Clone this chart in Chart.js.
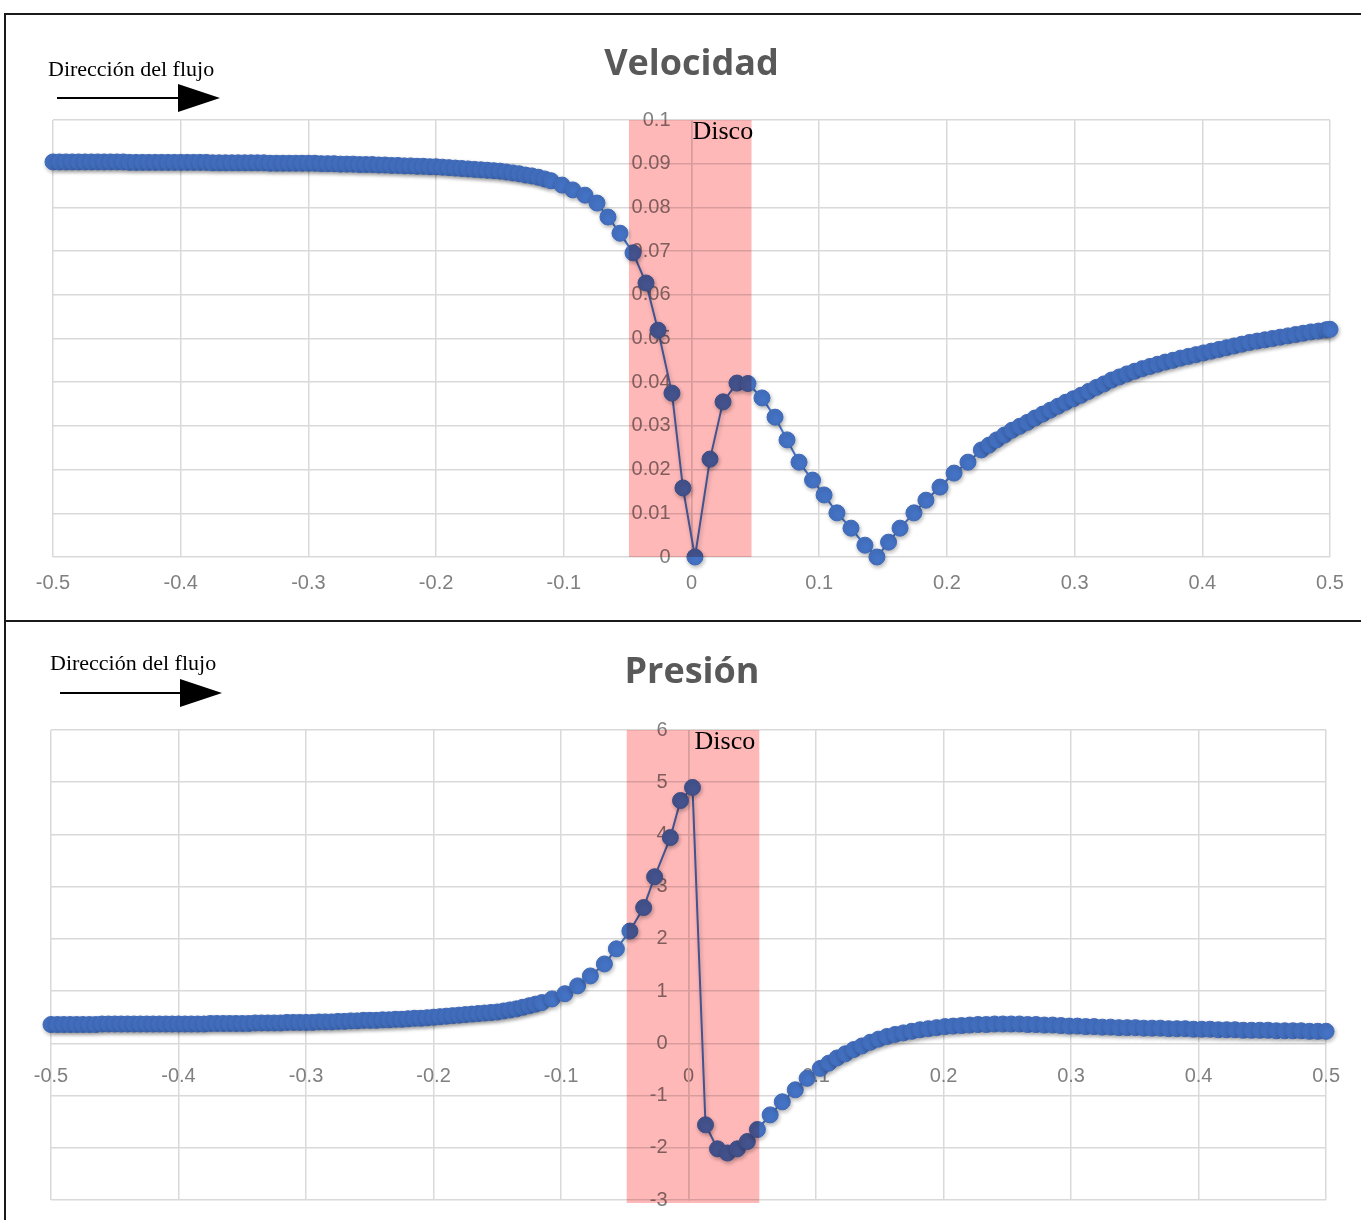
<!DOCTYPE html>
<html>
<head>
<meta charset="utf-8">
<script src="https://cdn.jsdelivr.net/npm/chart.js@4.4.1/dist/chart.umd.min.js"></script>
<style>
html,body{margin:0;padding:0;background:#fff;}
body{width:1361px;height:1220px;overflow:hidden;position:relative;}
.ln{position:absolute;background:#1a1a1a;z-index:5;}
canvas{position:absolute;left:0;}
#c1{top:0;}
#c2{top:622px;}
.dir{position:absolute;font-family:"Liberation Serif","Times New Roman",serif;font-size:22px;line-height:22px;color:#000;white-space:nowrap;z-index:4;}
.shaft{position:absolute;height:2px;background:#000;z-index:4;}
.head{position:absolute;width:0;height:0;border-left:42px solid #000;border-top:14px solid transparent;border-bottom:14px solid transparent;z-index:4;}
</style>
</head>
<body>
<div class="ln" style="left:4px;top:13px;width:1357px;height:2px;"></div>
<div class="ln" style="left:4px;top:13px;width:2px;height:1207px;"></div>
<div class="ln" style="left:4px;top:620px;width:1357px;height:2px;"></div>

<canvas id="c1" width="1361" height="610"></canvas>
<canvas id="c2" width="1361" height="598"></canvas>

<div class="dir" style="left:48px;top:58px;">Dirección del flujo</div>
<div class="shaft" style="left:57px;top:97px;width:124px;"></div>
<div class="head" style="left:178px;top:84px;"></div>

<div class="dir" style="left:50px;top:652px;">Dirección del flujo</div>
<div class="shaft" style="left:60px;top:692px;width:122px;"></div>
<div class="head" style="left:180px;top:679px;"></div>

<script>
// ---------- data ----------
const xTickVals = [-0.5,-0.4,-0.3,-0.2,-0.1,0,0.1,0.2,0.3,0.4,0.5];
const xTickLabels = ['-0.5','-0.4','-0.3','-0.2','-0.1','0','0.1','0.2','0.3','0.4','0.5'];
const velYTickVals = [0,0.01,0.02,0.03,0.04,0.05,0.06,0.07,0.08,0.09,0.1];
const velYTickLabels = ['0','0.01','0.02','0.03','0.04','0.05','0.06','0.07','0.08','0.09','0.1'];
const presYTickVals = [-3,-2,-1,0,1,2,3,4,5,6];
const presYTickLabels = ['-3','-2','-1','0','1','2','3','4','5','6'];

const velTitle = 'Velocidad';
const presTitle = 'Presión';
const discLabel = 'Disco';
const velDisc = [-0.049, 0.047];
const presDisc = [-0.0485, 0.0555];

const velX = [
-0.5,-0.495,-0.49,-0.485,-0.48,-0.475,-0.47,-0.465,-0.46,-0.455,
-0.45,-0.445,-0.44,-0.435,-0.43,-0.425,-0.42,-0.415,-0.41,-0.405,
-0.4,-0.395,-0.39,-0.385,-0.38,-0.375,-0.37,-0.365,-0.36,-0.355,
-0.35,-0.345,-0.34,-0.335,-0.33,-0.325,-0.32,-0.315,-0.31,-0.305,
-0.3,-0.295,-0.29,-0.285,-0.28,-0.275,-0.27,-0.265,-0.26,-0.255,
-0.25,-0.245,-0.24,-0.235,-0.23,-0.225,-0.22,-0.215,-0.21,-0.205,
-0.2,-0.195,-0.19,-0.185,-0.18,-0.175,-0.17,-0.165,-0.16,-0.155,
-0.15,-0.145,-0.14,-0.135,-0.13,-0.125,-0.12,-0.115,-0.11,
-0.1014,-0.093,-0.0834,-0.074,-0.0654,-0.056,-0.0458,-0.0356,-0.0262,-0.0153,
-0.0067,0.0027,0.0145,0.0247,0.0356,0.0442,0.0552,0.0654,0.0748,0.0842,
0.0948,0.1038,0.1139,0.1249,0.1358,0.1452,0.1543,0.1633,0.1742,0.1836,
0.1946,0.2056,0.2165,
0.227,0.233,0.239,0.245,0.251,0.257,0.263,0.269,0.275,0.281,
0.287,0.293,0.299,0.305,0.311,0.317,0.323,0.329,0.335,0.341,
0.347,0.353,0.359,0.365,0.371,0.377,0.383,0.389,0.395,0.401,
0.407,0.413,0.419,0.425,0.431,0.437,0.443,0.449,0.455,0.461,
0.467,0.473,0.479,0.485,0.491,0.497,0.5
];
const velV = [
0.0904,0.0904,0.0904,0.0904,0.0904,0.0904,0.0904,0.0904,0.0904,0.0904,
0.0904,0.0904,0.0903,0.0903,0.0903,0.0903,0.0903,0.0903,0.0903,0.0903,
0.0903,0.0903,0.0903,0.0903,0.0903,0.0902,0.0902,0.0902,0.0902,0.0902,
0.0902,0.0902,0.0902,0.0902,0.0901,0.0901,0.0901,0.0901,0.0901,0.0901,
0.0901,0.0901,0.0900,0.0900,0.0900,0.0899,0.0899,0.0899,0.0898,0.0898,
0.0898,0.0897,0.0897,0.0896,0.0896,0.0895,0.0895,0.0894,0.0894,0.0893,
0.0893,0.0892,0.0891,0.0890,0.0889,0.0888,0.0887,0.0886,0.0885,0.0884,
0.0883,0.0881,0.0879,0.0877,0.0874,0.0872,0.0869,0.0865,0.0861,
0.0851,0.0840,0.0828,0.0810,0.0778,0.0741,0.0696,0.0627,0.0519,0.0375,
0.0158,0.0,0.0224,0.0355,0.0398,0.0397,0.0364,0.0320,0.0268,0.0217,
0.0176,0.0142,0.0101,0.0066,0.0027,0.0,0.0034,0.0066,0.0101,0.0130,
0.0160,0.0192,0.0217,
0.0245,0.0256,0.0268,0.0279,0.0290,0.0299,0.0308,0.0318,0.0327,0.0336,
0.0345,0.0354,0.0362,0.0370,0.0379,0.0388,0.0396,0.0405,0.0412,0.0419,
0.0425,0.0431,0.0436,0.0441,0.0446,0.0450,0.0455,0.0459,0.0463,0.0467,
0.0471,0.0475,0.0479,0.0483,0.0487,0.0491,0.0494,0.0497,0.0500,0.0503,
0.0506,0.0509,0.0512,0.0515,0.0517,0.0520,0.0521
];

const presX = [
-0.5,-0.495,-0.49,-0.485,-0.48,-0.475,-0.47,-0.465,-0.46,-0.455,
-0.45,-0.445,-0.44,-0.435,-0.43,-0.425,-0.42,-0.415,-0.41,-0.405,
-0.4,-0.395,-0.39,-0.385,-0.38,-0.375,-0.37,-0.365,-0.36,-0.355,
-0.35,-0.345,-0.34,-0.335,-0.33,-0.325,-0.32,-0.315,-0.31,-0.305,
-0.3,-0.295,-0.29,-0.285,-0.28,-0.275,-0.27,-0.265,-0.26,-0.255,
-0.25,-0.245,-0.24,-0.235,-0.23,-0.225,-0.22,-0.215,-0.21,-0.205,
-0.2,-0.195,-0.19,-0.185,-0.18,-0.175,-0.17,-0.165,-0.16,-0.155,
-0.15,-0.145,-0.14,-0.135,-0.13,-0.125,-0.12,-0.115,
-0.107,-0.097,-0.087,-0.077,-0.066,-0.0566,-0.046,-0.0352,-0.0266,-0.0143,
-0.0063,0.0031,0.0133,0.0227,0.0305,0.0383,0.0461,0.054,0.064,0.0735,
0.0837,0.093,
0.1033,0.110,0.1165,0.123,0.1295,0.136,0.1425,0.149,0.1555,0.162,
0.1685,0.175,0.1815,0.188,0.1945,0.201,0.2075,0.214,0.2205,0.227,
0.2335,0.24,0.2465,0.253,0.2595,0.266,0.2725,0.279,0.2855,0.292,
0.2985,0.305,0.3115,0.318,0.3245,0.331,0.3375,0.344,0.3505,0.357,
0.3635,0.37,0.3765,0.383,0.3895,0.396,0.4025,0.409,0.4155,0.422,
0.4285,0.435,0.4415,0.448,0.4545,0.461,0.4675,0.474,0.4805,0.487,
0.4935,0.5
];
const presP = [
0.36,0.36,0.36,0.36,0.36,0.36,0.36,0.36,0.37,0.37,
0.37,0.37,0.37,0.37,0.37,0.37,0.37,0.37,0.37,0.37,
0.37,0.37,0.37,0.37,0.37,0.38,0.38,0.38,0.38,0.38,
0.38,0.38,0.39,0.39,0.39,0.39,0.39,0.40,0.40,0.40,
0.40,0.40,0.41,0.41,0.41,0.42,0.42,0.43,0.43,0.44,
0.44,0.44,0.45,0.45,0.46,0.46,0.47,0.48,0.48,0.49,
0.50,0.51,0.52,0.53,0.54,0.55,0.56,0.57,0.58,0.59,
0.60,0.62,0.64,0.66,0.69,0.72,0.75,0.78,
0.85,0.95,1.10,1.29,1.52,1.81,2.15,2.60,3.19,3.94,
4.65,4.90,-1.56,-2.02,-2.10,-2.02,-1.88,-1.65,-1.37,-1.12,
-0.89,-0.67,
-0.48,-0.38,-0.28,-0.20,-0.12,-0.05,0.02,0.08,0.13,0.17,
0.20,0.23,0.26,0.28,0.30,0.32,0.33,0.34,0.35,0.36,
0.36,0.37,0.37,0.37,0.37,0.36,0.36,0.35,0.35,0.34,
0.33,0.33,0.32,0.32,0.31,0.31,0.30,0.30,0.30,0.29,
0.29,0.29,0.28,0.28,0.28,0.27,0.27,0.27,0.26,0.26,
0.26,0.25,0.25,0.25,0.25,0.24,0.24,0.24,0.24,0.23,
0.23,0.23
];

// ---------- rendering ----------
Chart.defaults.font.family = '"Liberation Sans", Arial, sans-serif';

const discPlugin = {
  id: 'disc',
  beforeDatasetsDraw(chart) {
    const ctx = chart.ctx;
    ctx.save();
    ctx.shadowColor = 'rgba(0,0,0,0.28)';
    ctx.shadowBlur = 4;
    ctx.shadowOffsetX = 1;
    ctx.shadowOffsetY = 2;
  },
  afterDatasetsDraw(chart, args, opts) {
    const ctx = chart.ctx;
    ctx.restore();
    const a = chart.chartArea;
    const xs = chart.scales.x;
    const x0 = xs.getPixelForValue(opts.from);
    const x1 = xs.getPixelForValue(opts.to);
    ctx.save();
    ctx.globalCompositeOperation = 'multiply';
    ctx.fillStyle = 'rgb(255,184,184)';
    ctx.fillRect(x0, a.top, x1 - x0, a.bottom - a.top + opts.extra);
    ctx.restore();
    ctx.save();
    ctx.fillStyle = '#000';
    ctx.font = '26px "Liberation Serif", serif';
    ctx.textBaseline = 'middle';
    ctx.textAlign = 'left';
    ctx.fillText(opts.label, xs.getPixelForValue(0) + opts.dx, a.top + 12);
    ctx.restore();
  }
};

// y labels of an axis placed at x = 0 get a gap from the axis line
function shiftYLabels(scale) {
  if (scale._shiftPatched) return;
  const orig = scale._computeLabelItems;
  scale._computeLabelItems = function (ca) {
    const items = orig.call(this, ca);
    items.forEach(it => { it.options.translation[0] -= 21; });
    return items;
  };
  scale._shiftPatched = true;
}

function makeChart(id, xs, ys, cfg) {
  const pts = xs.map((x, i) => ({x: x, y: ys[i]}));
  return new Chart(document.getElementById(id), {
    type: 'scatter',
    data: {
      datasets: [{
        data: pts,
        showLine: true,
        borderColor: '#4472C4',
        borderWidth: 2,
        backgroundColor: '#4472C4',
        pointBorderColor: '#3f69b8',
        pointBorderWidth: 1,
        pointRadius: 8,
        pointHoverRadius: 8,
        tension: 0,
        clip: false
      }]
    },
    options: {
      responsive: false,
      animation: false,
      events: [],
      layout: {padding: cfg.padding},
      plugins: {
        legend: {display: false},
        tooltip: {enabled: false},
        title: {
          display: true,
          text: cfg.title,
          color: '#595959',
          font: {family: '"Open Sans", "Liberation Sans", sans-serif', size: 36, weight: 'bold'},
          padding: cfg.titlePad
        },
        disc: {from: cfg.disc[0], to: cfg.disc[1], extra: cfg.discExtra, dx: cfg.discDx, label: discLabel}
      },
      scales: {
        x: {
          type: 'linear',
          min: -0.5, max: 0.5,
          position: cfg.xPos,
          afterBuildTicks: s => { s.ticks = xTickVals.map(v => ({value: v})); },
          ticks: {
            callback: (v, i) => xTickLabels[i],
            color: '#808080',
            font: {size: 20},
            padding: cfg.xPad,
            maxRotation: 0,
            autoSkip: false
          },
          grid: {color: '#d9d9d9', lineWidth: 1.5, drawTicks: false},
          border: {display: false}
        },
        y: {
          type: 'linear',
          min: cfg.yMin, max: cfg.yMax,
          position: {x: 0},
          afterBuildTicks: s => { s.ticks = cfg.yTicks.map(v => ({value: v})); },
          afterUpdate: shiftYLabels,
          ticks: {
            callback: (v, i) => cfg.yLabels[i],
            color: '#808080',
            font: {size: 20},
            padding: 0,
            autoSkip: false
          },
          grid: {color: '#d9d9d9', lineWidth: 1.5, drawTicks: false},
          border: {color: '#d9d9d9', width: 1.5}
        }
      }
    },
    plugins: [discPlugin]
  });
}

makeChart('c1', velX, velV, {
  title: velTitle,
  padding: {left: 53, right: 31, top: 0, bottom: 1},
  titlePad: {top: 43.4, bottom: 33.4},
  xPos: 'bottom',
  xPad: 14,
  yMin: 0, yMax: 0.1,
  yTicks: velYTickVals, yLabels: velYTickLabels,
  disc: velDisc, discExtra: 0, discDx: 1
});

makeChart('c2', presX, presP, {
  title: presTitle,
  padding: {left: 51, right: 28, top: 0, bottom: 20},
  titlePad: {top: 29.4, bottom: 35.4},
  xPos: {y: 0},
  xPad: 21,
  yMin: -3, yMax: 6,
  yTicks: presYTickVals, yLabels: presYTickLabels,
  disc: presDisc, discExtra: 3, discDx: 6
});
</script>
</body>
</html>
